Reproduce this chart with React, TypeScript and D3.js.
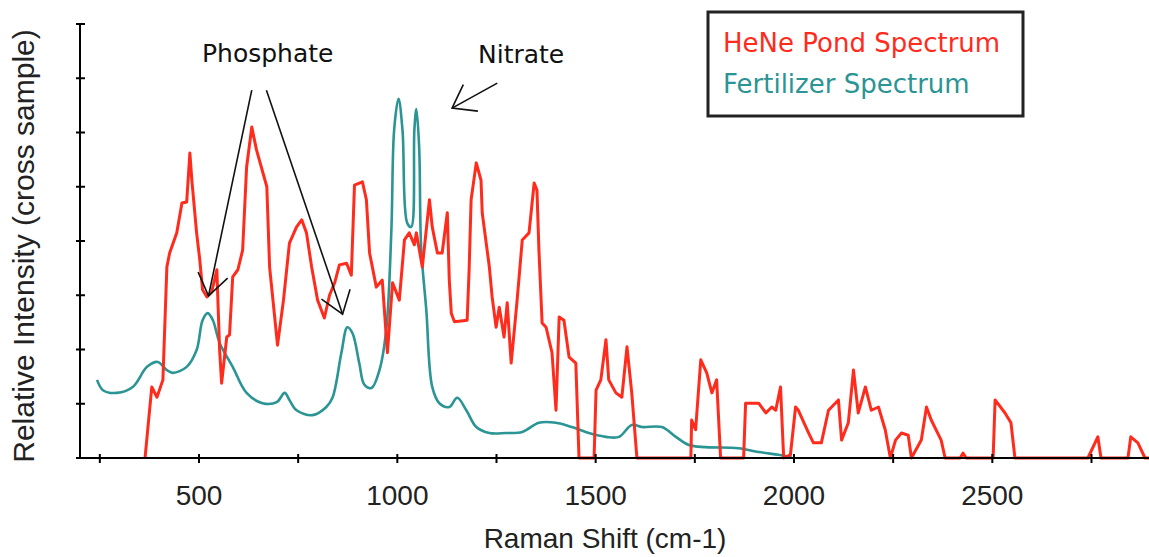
import React from 'react';
import * as d3 from 'd3';

// Raman shift (cm-1), relative intensity (axis ticks = 1 unit)
const pondSpectrum: [number, number][] = [
  [364, 0], [369, 0.39], [381, 1.31], [394, 1.12], [409, 1.44], [419, 3.52], [426, 3.78], [444, 4.15],
  [457, 4.7], [469, 4.72], [477, 5.62], [482, 5.12], [494, 4.15], [502, 3.65], [509, 3.1], [520, 2.97],
  [532, 3.06], [545, 3.47], [552, 1.99], [557, 1.38], [570, 2.23], [577, 2.27], [585, 3.34], [598, 3.47],
  [610, 3.83], [620, 5.36], [633, 6.1], [645, 5.68], [671, 5.0], [678, 3.52], [698, 2.08], [713, 2.91],
  [728, 3.96], [746, 4.26], [759, 4.39], [771, 4.15], [784, 3.52], [799, 2.91], [816, 2.58], [829, 3.0],
  [842, 3.23], [854, 3.56], [872, 3.59], [884, 3.37], [892, 5.03], [912, 5.09], [922, 4.76], [930, 3.78],
  [947, 3.15], [962, 3.28], [975, 1.94], [988, 3.23], [1005, 2.91], [1018, 4.02], [1030, 4.15], [1043, 3.93],
  [1048, 4.15], [1063, 3.52], [1081, 4.76], [1088, 4.26], [1101, 3.78], [1113, 3.78], [1126, 4.52], [1131, 3.28],
  [1136, 2.67], [1144, 2.51], [1176, 2.54], [1181, 3.47], [1186, 4.76], [1199, 5.44], [1211, 5.12], [1214, 4.52],
  [1232, 3.52], [1239, 2.97], [1249, 2.41], [1257, 2.78], [1269, 2.23], [1277, 2.86], [1287, 1.75], [1295, 2.36],
  [1302, 2.91], [1315, 4.02], [1332, 4.15], [1345, 5.07], [1352, 4.94], [1357, 3.83], [1365, 2.49], [1375, 2.41],
  [1390, 1.94], [1400, 0.88], [1408, 2.6], [1420, 2.54], [1433, 1.86], [1450, 1.75], [1458, 0], [1496, 0],
  [1501, 1.25], [1513, 1.44], [1526, 2.18], [1533, 1.44], [1551, 1.2], [1566, 1.12], [1579, 2.05], [1591, 1.2],
  [1604, 0], [1740, 0], [1742, 0.7], [1752, 0.52], [1765, 1.81], [1780, 1.57], [1793, 1.2], [1805, 1.44],
  [1815, 0], [1873, 0], [1878, 1.01], [1911, 1.01], [1929, 0.83], [1944, 0.94], [1954, 0.88], [1966, 1.31],
  [1974, 0], [1991, 0.06], [2004, 0.94], [2011, 0.88], [2037, 0.46], [2049, 0.28], [2069, 0.28], [2087, 0.88],
  [2112, 1.07], [2120, 0.33], [2137, 0.65], [2150, 1.62], [2162, 0.83], [2180, 1.31], [2195, 0.88], [2213, 0.94],
  [2230, 0.52], [2243, 0], [2256, 0.33], [2271, 0.46], [2288, 0.42], [2296, 0], [2321, 0.33], [2334, 0.94],
  [2346, 0.7], [2371, 0.33], [2381, 0], [2419, 0], [2426, 0.09], [2434, 0], [2502, 0], [2507, 1.07],
  [2532, 0.83], [2547, 0.65], [2557, 0], [2741, 0], [2766, 0.39], [2774, 0], [2842, 0], [2849, 0.39],
  [2867, 0.28], [2885, 0], [2895, 0],
];

const fertilizerSpectrum: [number, number][] = [
  [243, 1.44], [258, 1.25], [293, 1.2], [333, 1.31], [369, 1.68], [396, 1.77], [419, 1.62], [434, 1.57],
  [469, 1.68], [494, 1.99], [509, 2.54], [522, 2.67], [535, 2.54], [552, 2.12], [585, 1.68], [620, 1.2],
  [660, 1.01], [696, 1.03], [716, 1.2], [728, 1.07], [746, 0.88], [786, 0.79], [821, 0.94], [837, 1.12],
  [859, 1.94], [874, 2.41], [887, 2.3], [904, 1.75], [917, 1.35], [935, 1.29], [955, 1.62], [972, 2.36],
  [985, 4.2], [992, 6.05], [1003, 6.62], [1013, 6.05], [1025, 4.33], [1035, 4.26], [1043, 6.05], [1048, 6.43],
  [1055, 5.73], [1060, 3.89], [1073, 2.73], [1088, 1.31], [1106, 1.01], [1131, 0.94], [1151, 1.11], [1174, 0.88],
  [1199, 0.57], [1232, 0.46], [1274, 0.46], [1315, 0.48], [1357, 0.65], [1400, 0.65], [1440, 0.57], [1483, 0.46],
  [1526, 0.39], [1559, 0.39], [1591, 0.61], [1617, 0.57], [1667, 0.57], [1702, 0.39], [1735, 0.24], [1778, 0.2],
  [1860, 0.18], [1911, 0.11], [1961, 0.06], [1994, 0.02],
];

const xTicks = [250, 500, 750, 1000, 1250, 1500, 1750, 2000, 2250, 2500, 2750];
const xTickLabels = [500, 1000, 1500, 2000, 2500];
const yTicks = [0, 1, 2, 3, 4, 5, 6, 7, 8];

const seriesNames = ['HeNe Pond Spectrum', 'Fertilizer Spectrum'];
const seriesColors = ['#ff2b1c', '#2b9494'];

// annotation arrows: [tailX, tailY, tipX, tipY]
const phosphateArrows: [number, number, number, number][] = [
  [633, 6.78, 524, 2.99],
  [670, 6.78, 862, 2.65],
];
const nitrateArrow: [number, number, number, number] = [1252, 6.91, 1138, 6.45];

const W = 1149;
const H = 557;

export default function App() {
  const x = d3.scaleLinear().domain([200, 2895]).range([80, 1149]);
  const y = d3.scaleLinear().domain([0, 8]).range([458, 24]);

  const redLine = d3
    .line<[number, number]>()
    .x(d => x(d[0]))
    .y(d => y(d[1]));
  const tealLine = d3
    .line<[number, number]>()
    .x(d => x(d[0]))
    .y(d => y(d[1]))
    .curve(d3.curveCatmullRom.alpha(0.5));

  const arrowHead = (tx: number, ty: number, px: number, py: number) => {
    // open V head at (px,py) pointing away from (tx,ty)
    const ang = Math.atan2(py - ty, px - tx);
    const len = 26;
    const spread = 0.62;
    const a1 = ang + Math.PI - spread;
    const a2 = ang + Math.PI + spread;
    return `M${px + len * Math.cos(a1)},${py + len * Math.sin(a1)}L${px},${py}L${px + len * Math.cos(a2)},${py + len * Math.sin(a2)}`;
  };

  const annFont = "'DejaVu Sans', Verdana, sans-serif";
  const axisFont = "'Liberation Sans', Arial, sans-serif";

  return (
    <svg width={W} height={H} style={{ position: 'absolute', left: 0, top: 0, background: '#fff' }}>
      {/* spectra */}
      <path d={tealLine(fertilizerSpectrum) || ''} fill="none" stroke={seriesColors[1]} strokeWidth={2.6} strokeLinejoin="round" />
      <path d={redLine(pondSpectrum) || ''} fill="none" stroke={seriesColors[0]} strokeWidth={3} strokeLinejoin="round" />

      {/* y axis */}
      <line x1={x(200)} x2={x(200)} y1={y(8)} y2={y(0)} stroke="#000" strokeWidth={2} />
      {yTicks.map(t => (
        <line key={'yt' + t} x1={x(200) - 4} x2={x(200) + 5} y1={y(t)} y2={y(t)} stroke="#000" strokeWidth={2} />
      ))}

      {/* x axis */}
      <line x1={x(200) - 4} x2={W} y1={y(0)} y2={y(0)} stroke="#000" strokeWidth={2} />
      {xTicks.map(t => (
        <line key={'xt' + t} x1={x(t)} x2={x(t)} y1={y(0) - 4} y2={y(0) + 5} stroke="#000" strokeWidth={2} />
      ))}
      {xTickLabels.map(t => (
        <text key={'xl' + t} x={x(t)} y={505} textAnchor="middle" fontFamily={axisFont} fontSize={28} fill="#222">
          {t}
        </text>
      ))}
      <text x={605} y={548} textAnchor="middle" fontFamily={axisFont} fontSize={28} fill="#222">
        Raman Shift (cm-1)
      </text>
      <text
        transform={`translate(34, 246) rotate(-90)`}
        textAnchor="middle"
        fontFamily={axisFont}
        fontSize={30}
        fill="#222"
      >
        Relative Intensity (cross sample)
      </text>

      {/* annotations */}
      <text x={202} y={62} fontFamily={annFont} fontSize={25} fill="#111">
        Phosphate
      </text>
      {phosphateArrows.map((a, i) => (
        <g key={'pa' + i} stroke="#111" strokeWidth={1.6} fill="none">
          <line x1={x(a[0])} y1={y(a[1])} x2={x(a[2])} y2={y(a[3])} />
          <path d={arrowHead(x(a[0]), y(a[1]), x(a[2]), y(a[3]))} />
        </g>
      ))}
      <text x={478} y={63} fontFamily={annFont} fontSize={25} fill="#111">
        Nitrate
      </text>
      <g stroke="#111" strokeWidth={1.6} fill="none">
        <line x1={x(nitrateArrow[0])} y1={y(nitrateArrow[1])} x2={x(nitrateArrow[2])} y2={y(nitrateArrow[3])} />
        <path d={arrowHead(x(nitrateArrow[0]), y(nitrateArrow[1]), x(nitrateArrow[2]), y(nitrateArrow[3]))} />
      </g>

      {/* legend */}
      <rect x={708} y={12} width={315} height={104} fill="#fff" stroke="#222" strokeWidth={3} />
      {seriesNames.map((n, i) => (
        <text key={n} x={723} y={52 + i * 41} fontFamily={annFont} fontSize={26} fill={seriesColors[i]}>
          {n}
        </text>
      ))}
    </svg>
  );
}
